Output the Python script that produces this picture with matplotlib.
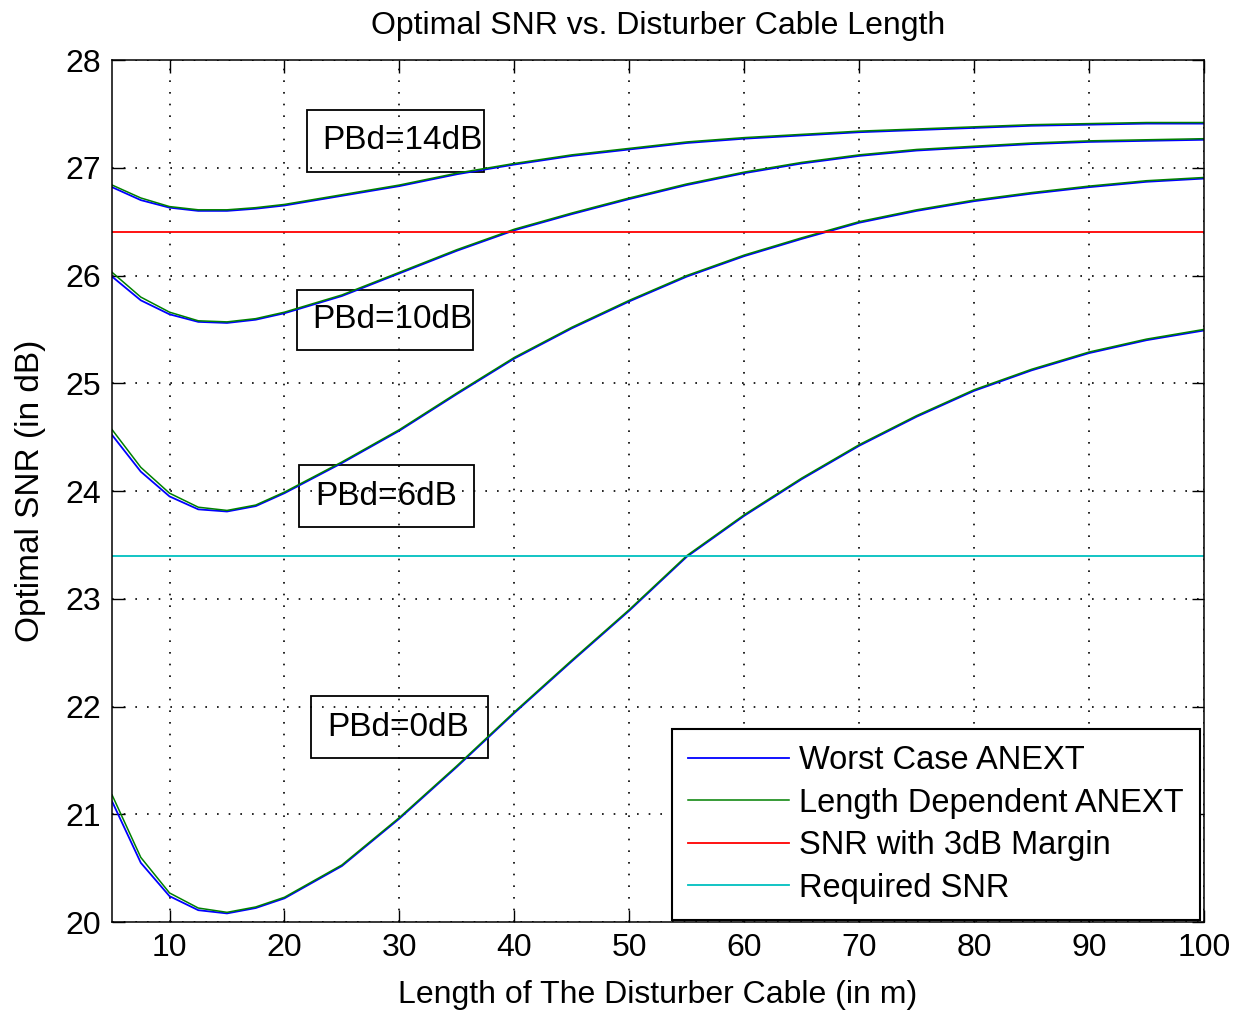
import matplotlib
matplotlib.use("Agg")
import matplotlib.pyplot as plt
from matplotlib.patches import Rectangle

plt.rcParams['font.family'] = ['Liberation Sans', 'DejaVu Sans']

length = [5, 7.5, 10, 12.5, 15, 17.5, 20, 25, 30, 35, 40, 45, 50, 55, 60,
          65, 70, 75, 80, 85, 90, 95, 100]

ld_0 = [21.18, 20.60, 20.27, 20.13, 20.09, 20.14, 20.23, 20.53, 20.97, 21.45,
        21.95, 22.43, 22.90, 23.40, 23.78, 24.12, 24.43, 24.70, 24.94, 25.13,
        25.29, 25.41, 25.50]
ld_6 = [24.57, 24.22, 23.98, 23.85, 23.82, 23.87, 23.99, 24.27, 24.57, 24.91,
        25.24, 25.52, 25.77, 26.00, 26.19, 26.35, 26.50, 26.61, 26.70, 26.77,
        26.83, 26.88, 26.91]
ld_10 = [26.03, 25.80, 25.66, 25.58, 25.57, 25.60, 25.66, 25.82, 26.03, 26.24,
         26.43, 26.58, 26.72, 26.85, 26.96, 27.05, 27.12, 27.17, 27.20, 27.23,
         27.25, 27.26, 27.27]
ld_14 = [26.84, 26.72, 26.64, 26.61, 26.61, 26.63, 26.66, 26.75, 26.84, 26.95,
         27.04, 27.12, 27.18, 27.24, 27.28, 27.31, 27.34, 27.36, 27.38, 27.40,
         27.41, 27.42, 27.42]

wc_0 = [21.12, 20.55, 20.24, 20.11, 20.08, 20.13, 20.22, 20.52, 20.96, 21.44,
        21.94, 22.42, 22.89, 23.39, 23.77, 24.11, 24.42, 24.69, 24.93, 25.12,
        25.28, 25.40, 25.49]
wc_6 = [24.52, 24.18, 23.95, 23.83, 23.81, 23.86, 23.98, 24.26, 24.56, 24.90,
        25.23, 25.51, 25.76, 25.99, 26.18, 26.34, 26.49, 26.60, 26.69, 26.76,
        26.82, 26.87, 26.90]
wc_10 = [25.99, 25.77, 25.64, 25.57, 25.56, 25.59, 25.65, 25.81, 26.02, 26.23,
         26.42, 26.57, 26.71, 26.84, 26.95, 27.04, 27.11, 27.16, 27.19, 27.22,
         27.24, 27.25, 27.26]
wc_14 = [26.82, 26.70, 26.63, 26.60, 26.60, 26.62, 26.65, 26.74, 26.83, 26.94,
         27.03, 27.11, 27.17, 27.23, 27.27, 27.30, 27.33, 27.35, 27.37, 27.39,
         27.40, 27.41, 27.41]

snr_margin = 26.4
snr_required = 23.4

labels = ["PBd=14dB", "PBd=10dB", "PBd=6dB", "PBd=0dB"]
# text anchor (left, vertical centre) and surrounding box [x0, x1, y0, y1]
label_pos = [(23.3, 27.25), (22.4, 25.59), (22.7, 23.95), (23.7, 21.81)]
label_box = [(21.99, 37.32, 26.96, 27.54),
             (21.11, 36.36, 25.31, 25.87),
             (21.29, 36.45, 23.67, 24.24),
             (22.33, 37.67, 21.52, 22.10)]

fig = plt.figure(figsize=(12.34, 10.14), dpi=100)
ax = fig.add_axes([0.0908, 0.0907, 0.8849, 0.8501])

wc_all = [wc_0, wc_6, wc_10, wc_14]
ld_all = [ld_0, ld_6, ld_10, ld_14]
for i, (wc, ld) in enumerate(zip(wc_all, ld_all)):
    ax.plot(length, wc, color='#0000ff', lw=1.3,
            label='Worst Case ANEXT' if i == 0 else None)
    ax.plot(length, ld, color='#008000', lw=1.1,
            label='Length Dependent ANEXT' if i == 0 else None)

ax.axhline(snr_margin, color='#ff0000', lw=1.3, label='SNR with 3dB Margin')
ax.axhline(snr_required, color='#00bfbf', lw=1.3, label='Required SNR')

for t, (lx, ly), (x0, x1, y0, y1) in zip(labels, label_pos, label_box):
    ax.text(lx, ly, t, fontsize=24, ha='left', va='center', color='black')
    ax.add_patch(Rectangle((x0, y0), x1 - x0, y1 - y0, fill=False,
                           edgecolor='black', lw=1.3))

ax.set_xlim(5, 100)
ax.set_ylim(20, 28)
ax.set_xticks([10, 20, 30, 40, 50, 60, 70, 80, 90, 100])
ax.set_yticks([20, 21, 22, 23, 24, 25, 26, 27, 28])
ax.tick_params(direction='in', top=True, right=True, labelsize=23,
               length=9, width=1.0, pad=8)
ax.grid(True, color='black', linestyle=(0, (1, 6)), lw=1.2)
for s in ax.spines.values():
    s.set_linewidth(1.1)

ax.set_title('Optimal SNR vs. Disturber Cable Length', fontsize=23, pad=19)
ax.set_xlabel('Length of The Disturber Cable (in m)', fontsize=23, labelpad=12)
ax.set_ylabel('Optimal SNR (in dB)', fontsize=24, labelpad=14)

leg = ax.legend(loc='lower right', bbox_to_anchor=(0.9724, 0.0927),
                bbox_transform=fig.transFigure, fontsize=23.5, frameon=True,
                fancybox=False, edgecolor='black', framealpha=1,
                handlelength=3.1, handletextpad=0.3, borderpad=0.5,
                labelspacing=0.35, borderaxespad=0)
leg.get_frame().set_linewidth(1.5)

fig.savefig('out.png', dpi=100, facecolor='white')
